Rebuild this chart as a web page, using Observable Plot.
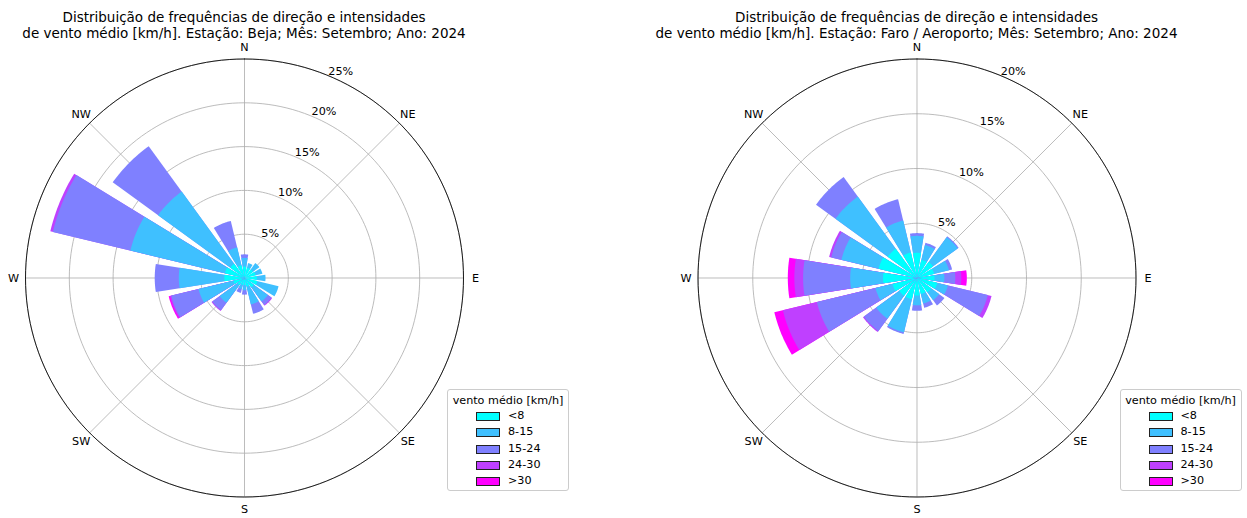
<!DOCTYPE html>
<html>
<head>
<meta charset="utf-8">
<script src="https://cdn.jsdelivr.net/npm/d3@7"></script>
<script src="https://cdn.jsdelivr.net/npm/@observablehq/plot@0.6"></script>
<style>
  body { margin: 0; background: #fff; font-family: "DejaVu Sans", sans-serif; color: #000; }
  #root { position: relative; width: 1247px; height: 518px; overflow: hidden; }
  .chart { position: absolute; top: 0; }
  .title { position: absolute; top: 9px; width: 640px; text-align: center; font-size: 13.5px; line-height: 16px; white-space: nowrap; }
  .legend { position: absolute; top: 389px; width: 120px; height: 100px; border: 1px solid #cccccc; border-radius: 3px; background: #fff; font-size: 11.2px; }
  .legend .lt { position: absolute; left: 0; width: 120px; top: 4px; text-align: center; white-space: nowrap; }
  .legend .sw { position: absolute; left: 28px; width: 22px; height: 7px; border: 0.8px solid #222; }
  .legend .lb { position: absolute; left: 60px; white-space: nowrap; line-height: 12px; }
</style>
</head>
<body>
<div id="root"></div>
<script>
// ---------- data ----------
const directions = ["N","NNE","NE","ENE","E","ESE","SE","SSE","S","SSW","SW","WSW","W","WNW","NW","NNW"];
const speedClasses = ["<8", "8-15", "15-24", "24-30", ">30"];
const classColors = ["#00ffff", "#3fc0ff", "#7f80ff", "#bf40ff", "#ff00ff"];
const compassLabels = ["N", "NE", "E", "SE", "S", "SW", "W", "NW"];
const legendTitle = "vento médio [km/h]";

// Beja, % per direction and speed class
const bejaLt8     = [1.3, 1.2, 1.2, 1.3, 1.4, 1.5, 1.3, 1.0, 0.8, 0.8, 1.0, 1.3, 2.3, 2.3, 2.0, 1.5];
const beja8to15   = [1.0, 0.55, 0.9, 0.8, 1.0, 2.5, 2.0, 2.1, 0.6, 0.5, 2.5, 4.1, 5.2, 11.1, 10.2, 2.1];
const beja15to24  = [0.4, 0, 0, 0, 0, 0, 0.5, 1.1, 0.5, 0.45, 1.05, 3.2, 2.75, 9.1, 6.4, 3.1];
const beja24to30  = [0, 0, 0, 0, 0, 0, 0.1, 0, 0, 0, 0.1, 0.15, 0, 0.3, 0, 0];
const bejaGt30    = [0, 0, 0, 0, 0, 0, 0, 0, 0, 0, 0, 0.15, 0, 0, 0, 0];
const bejaTicks   = [5, 10, 15, 20, 25];
const bejaTitle   = ["Distribuição de frequências de direção e intensidades",
                     "de vento médio [km/h]. Estação: Beja; Mês: Setembro; Ano: 2024"];

// Faro / Aeroporto
const faroLt8     = [2.3, 1.7, 1.8, 1.6, 1.6, 1.9, 1.6, 1.5, 1.6, 2.0, 2.0, 2.3, 3.1, 3.6, 3.3, 2.4];
const faro8to15   = [1.55, 1.4, 2.8, 1.4, 0.9, 1.0, 0.9, 0.9, 0.9, 3.1, 2.6, 1.6, 3.0, 3.5, 5.9, 3.0];
const faro15to24  = [0.25, 0.2, 0.1, 0.3, 1.0, 3.75, 0.6, 0.4, 0.5, 0.15, 1.4, 5.5, 4.3, 0.95, 2.2, 2.0];
const faro24to30  = [0, 0, 0, 0, 0.55, 0.35, 0, 0, 0, 0, 0.1, 3.2, 0.8, 0.2, 0, 0];
const faroGt30    = [0, 0, 0, 0, 0.5, 0, 0, 0, 0, 0, 0, 0.8, 0.6, 0, 0, 0];
const faroTicks   = [5, 10, 15, 20];
const faroTitle   = ["Distribuição de frequências de direção e intensidades",
                     "de vento médio [km/h]. Estação: Faro / Aeroporto; Mês: Setembro; Ano: 2024"];

// ---------- drawing ----------
const RAD = Math.PI / 180;
const R_PX = 219;          // radius of the polar frame in px
const CY = 277.5;
const OPENING = 0.8;       // fraction of the sector used by each bar

function polar(r, deg) { return {x: r * Math.sin(deg * RAD), y: r * Math.cos(deg * RAD)}; }

function barRows(series) {
  const rows = [];
  const step = 360 / directions.length;
  const half = step * OPENING / 2;
  directions.forEach((d, i) => {
    const vals = series.map(s => s[i]);
    const cum = d3.cumsum(vals);
    for (let k = vals.length - 1; k >= 0; k--) {
      if (!(vals[k] > 0)) continue;
      const id = d + "-" + k;
      rows.push({id, cls: speedClasses[k], x: 0, y: 0});
      for (let s = 0; s <= 16; s++) {
        const p = polar(cum[k], i * step - half + s * (2 * half / 16));
        rows.push({id, cls: speedClasses[k], ...p});
      }
    }
  });
  return rows;
}

function circleRows(radii) {
  const rows = [];
  radii.forEach(t => { for (let a = 0; a <= 360; a += 2) rows.push({t, ...polar(t, a)}); });
  return rows;
}

function drawRose({left, cx, width, series, ticks, title}) {
  const rmax = d3.max(ticks);
  const root = document.getElementById("root");
  const wrap = document.createElement("div");
  wrap.className = "chart";
  wrap.style.left = left + "px";
  root.appendChild(wrap);

  const spokes = compassLabels.map((c, i) => ({c, ...polar(rmax, i * 45)}));
  const labelR = rmax * 231 / R_PX;
  const compass = compassLabels.map((c, i) => ({c, ...polar(labelR, i * 45)}));
  const tickRows = ticks.map(t => ({t, label: t + "%", ...polar(t, 22.5)}));

  const plot = Plot.plot({
    width, height: 518, margin: 0,
    x: {domain: [-rmax, rmax], range: [cx - R_PX, cx + R_PX], axis: null},
    y: {domain: [-rmax, rmax], range: [CY + R_PX, CY - R_PX], axis: null},
    color: {domain: speedClasses, range: classColors},
    style: {fontFamily: "DejaVu Sans", fontSize: "11.2px", background: "transparent", overflow: "visible", color: "#000"},
    marks: [
      Plot.line(circleRows(ticks), {x: "x", y: "y", z: "t", stroke: "#b0b0b0", strokeWidth: 0.85}),
      Plot.link(spokes, {x1: () => 0, y1: () => 0, x2: "x", y2: "y", stroke: "#b0b0b0", strokeWidth: 0.85}),
      Plot.line(barRows(series), {x: "x", y: "y", z: "id", fill: "cls", stroke: "none", curve: "linear-closed"}),
      Plot.line(circleRows([rmax]), {x: "x", y: "y", z: "t", stroke: "#000", strokeWidth: 0.85}),
      Plot.text(compass, {x: "x", y: "y", text: "c", fill: "#000", fontSize: 11.2}),
      Plot.text(tickRows, {x: "x", y: "y", text: "label", fill: "#000", fontSize: 11.2, textAnchor: "start", lineAnchor: "bottom", dy: -1})
    ]
  });
  wrap.appendChild(plot);

  const t = document.createElement("div");
  t.className = "title";
  t.style.left = (cx - 320) + "px";
  t.innerHTML = title.map(s => s.replace(/&/g, "&amp;").replace(/</g, "&lt;")).join("<br>");
  wrap.appendChild(t);

  const lg = document.createElement("div");
  lg.className = "legend";
  lg.style.left = (cx + 203) + "px";
  const lt = document.createElement("div");
  lt.className = "lt"; lt.textContent = legendTitle;
  lg.appendChild(lt);
  speedClasses.forEach((c, k) => {
    const yc = 26.7 + k * 16.25;
    const sw = document.createElement("div");
    sw.className = "sw"; sw.style.top = (yc - 4.5) + "px"; sw.style.background = classColors[k];
    lg.appendChild(sw);
    const lb = document.createElement("div");
    lb.className = "lb"; lb.style.top = (yc - 6.5) + "px"; lb.textContent = c;
    lg.appendChild(lb);
  });
  wrap.appendChild(lg);
}

drawRose({left: 0, cx: 244, width: 620, series: [bejaLt8, beja8to15, beja15to24, beja24to30, bejaGt30], ticks: bejaTicks, title: bejaTitle});
drawRose({left: 672, cx: 244.5, width: 575, series: [faroLt8, faro8to15, faro15to24, faro24to30, faroGt30], ticks: faroTicks, title: faroTitle});
</script>
</body>
</html>
